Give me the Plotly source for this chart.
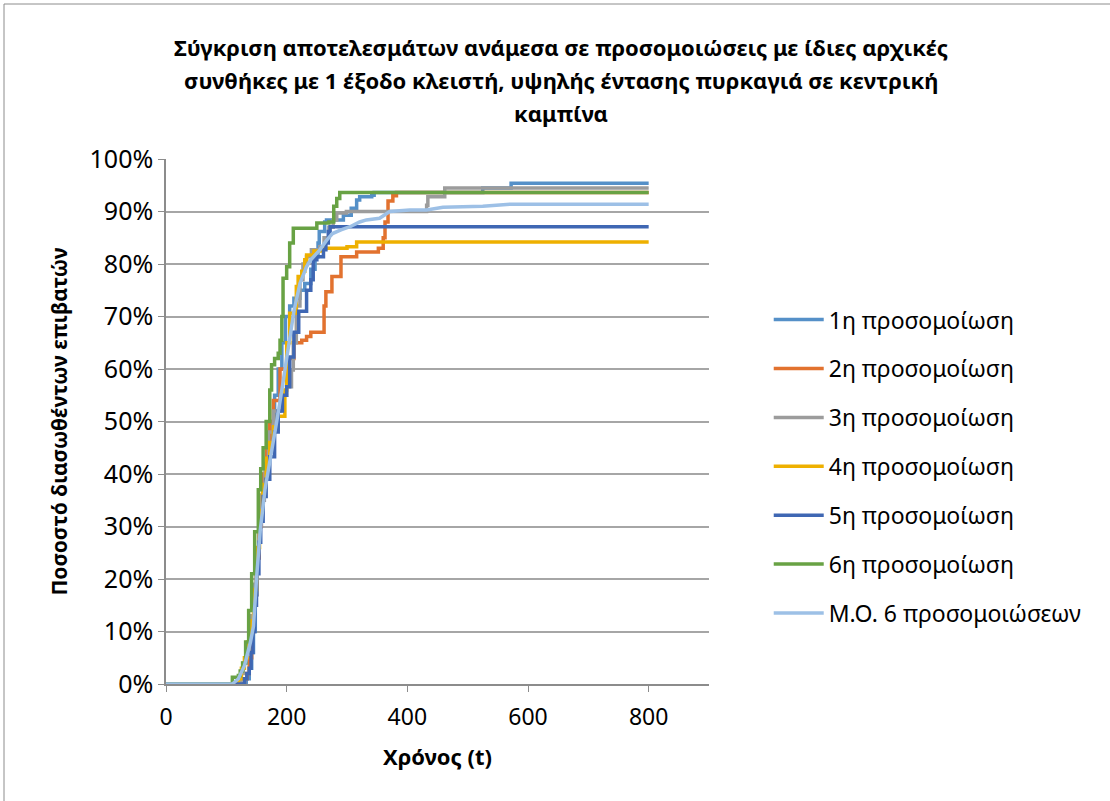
import plotly.graph_objects as go

# ---- Data (time t, percentage of evacuated passengers) ----
t1 = [0, 128, 133, 138, 142, 145, 148, 151, 154, 158, 163, 168, 173, 180, 186, 192, 198, 205, 212, 222, 230, 240, 247, 252, 254, 263, 266, 294, 307, 316, 321, 341, 345, 525, 572, 800]
v1 = [0, 0, 1, 3, 6, 10, 17, 24, 30, 35, 40, 45, 50, 55, 60, 65, 70, 72, 73.5, 75, 76.3, 79, 81.4, 84, 86.2, 88, 88.4, 89.3, 90.6, 92.2, 92.8, 93.1, 93.6, 94.5, 95.4, 95.4]

t2 = [0, 125, 130, 134, 138, 142, 146, 150, 154, 158, 162, 167, 172, 178, 189, 200, 212, 225, 233, 240, 260, 262, 265, 275, 290, 316, 352, 360, 363, 368, 376, 382, 800]
v2 = [0, 0, 1, 2, 5, 10, 17, 24, 30, 35, 40, 45, 50, 54, 60, 62, 65, 65.5, 66.2, 67, 67, 72, 74.7, 77.6, 81.4, 82.3, 83, 85, 88, 92, 93, 93.6, 93.6]

t3 = [0, 118, 124, 128, 133, 138, 142, 146, 150, 154, 158, 164, 170, 178, 190, 200, 208, 211, 216, 222, 227, 233, 241, 255, 262, 270, 277, 283, 299, 432, 434, 462, 800]
v3 = [0, 0, 2, 4, 6, 9, 13, 19, 25, 31, 36, 42, 48, 52, 55, 56.6, 59.8, 65, 72, 77, 80, 81.4, 82.7, 83.3, 85, 87, 88.4, 89.7, 90, 91.2, 92.8, 94.5, 94.5]

t4 = [0, 115, 120, 125, 130, 135, 140, 145, 150, 155, 160, 166, 172, 178, 185, 194, 197, 200, 205, 216, 219, 225, 230, 233, 245, 260, 300, 316, 800]
v4 = [0, 0, 1, 3, 5, 8, 12, 18, 26, 33, 38, 43, 46, 49, 51, 51, 56, 65, 70.6, 75.7, 77.6, 78.6, 80.8, 81.7, 82.5, 83, 83.3, 84.2, 84.2]

t5 = [0, 125, 130, 134, 138, 141, 144, 147, 150, 154, 157, 161, 166, 172, 180, 186, 193, 200, 205, 212, 220, 233, 240, 244, 250, 261, 265, 269, 272, 800]
v5 = [0, 0, 1, 2, 3, 6, 10, 15, 21, 27, 31, 35.7, 39, 43.3, 48, 52, 55, 56.6, 62.3, 67, 71, 75, 77, 80.8, 81.4, 82.7, 84, 86.2, 87.1, 87.1]

t6 = [0, 108, 110, 120, 123, 127, 132, 137, 142, 147, 153, 157, 161, 166, 172, 175, 180, 186, 189, 192, 194, 200, 205, 211, 250, 270, 278, 283, 288, 800]
v6 = [0, 0, 1.3, 1.6, 2.5, 4, 8, 14, 21, 29, 37, 41, 45, 50, 56, 60.8, 62, 63, 65.5, 70, 77.3, 79.5, 84, 86.8, 87.8, 88, 91, 92.5, 93.6, 93.6]

tm = [0, 110, 120, 130, 140, 145, 150, 156, 164, 172, 178, 185, 192, 200, 205, 212, 222, 233, 240, 255, 266, 276, 290, 305, 321, 332, 354, 371, 404, 432, 459, 525, 570, 800]
vm = [0, 0, 1, 3.5, 8, 11, 20, 29, 37, 42, 46.5, 51, 56, 62, 66, 71, 76.3, 79.5, 80.8, 82.7, 84.5, 85.8, 86.5, 87.1, 88, 88.4, 88.7, 90, 90.3, 90.3, 90.8, 91, 91.4, 91.4]

names = ["1η προσομοίωση", "2η προσομοίωση", "3η προσομοίωση", "4η προσομοίωση",
         "5η προσομοίωση", "6η προσομοίωση", "Μ.Ο. 6 προσομοιώσεων"]
colors = ["#5590C8", "#E2722F", "#9C9C9C", "#EEB000", "#3F67B3", "#68A244", "#9DC0E6"]
series_t = [t1, t2, t3, t4, t5, t6, tm]
series_v = [v1, v2, v3, v4, v5, v6, vm]
shapes_line = ["hv", "hv", "hv", "hv", "hv", "hv", "linear"]

x_ticks = [0, 200, 400, 600, 800]
y_ticks = [0, 10, 20, 30, 40, 50, 60, 70, 80, 90, 100]

FONT = "Noto Sans"

fig = go.Figure()
for i, (tt, vv) in enumerate(zip(series_t, series_v)):
    fig.add_trace(go.Scatter(
        x=tt, y=[v / 100 for v in vv], mode="lines", name=names[i],
        line=dict(color=colors[i], width=3.5, shape=shapes_line[i]),
        legendgroup=f"g{i}",
    ))

fig.update_layout(
    width=1110, height=801,
    paper_bgcolor="white", plot_bgcolor="white",
    margin=dict(l=166, r=401, t=159, b=117),
    font=dict(family=FONT, color="black"),
    showlegend=True,
    legend=dict(
        x=1.11, xanchor="left", y=0.735, yanchor="top",
        font=dict(size=23, family=FONT, color="black"),
        tracegroupgap=16, itemwidth=50,
        bgcolor="rgba(0,0,0,0)",
    ),
    xaxis=dict(
        range=[0, 900], tickvals=x_ticks, ticktext=[str(v) for v in x_ticks],
        showgrid=False, zeroline=False,
        showline=True, linecolor="#8C8C8C", linewidth=1.5,
        ticks="outside", ticklen=6, tickcolor="#8C8C8C",
        tickfont=dict(size=23, family=FONT), ticklabelstandoff=6,
        title=dict(text="<b>Χρόνος (t)</b>", font=dict(size=22, family=FONT), standoff=18),
    ),
    yaxis=dict(
        range=[0, 1], tickvals=[v / 100 for v in y_ticks],
        ticktext=[f"{v}%" for v in y_ticks],
        showgrid=True, gridcolor="#A6A6A6", gridwidth=1.5,
        zeroline=False,
        showline=True, linecolor="#8C8C8C", linewidth=1.5,
        ticks="outside", ticklen=6, tickcolor="#8C8C8C",
        tickfont=dict(size=25, family=FONT),
        title=dict(text="<b>Ποσοστό διασωθέντων επιβατών</b>", font=dict(size=21, family=FONT), standoff=16),
    ),
    shapes=[dict(type="rect", xref="paper", yref="paper",
                 x0=(4 - 166) / 543, x1=(1120 - 166) / 543,
                 y0=(684 - 815) / 525, y1=(684 - 4) / 525,
                 line=dict(color="#8C8C8C", width=1), fillcolor="rgba(0,0,0,0)", layer="below")],
)

title_lines = [
    "Σύγκριση αποτελεσμάτων ανάμεσα σε προσομοιώσεις με ίδιες αρχικές",
    "συνθήκες με 1 έξοδο κλειστή, υψηλής έντασης πυρκαγιά σε κεντρική",
    "καμπίνα",
]
title_y = [47, 80, 113]
for line, py in zip(title_lines, title_y):
    fig.add_annotation(
        text=f"<b>{line}</b>", xref="paper", yref="paper",
        x=(561 - 166) / 543, y=(684 - py) / 525, xanchor="center", yanchor="middle",
        showarrow=False, font=dict(size=22, family=FONT, color="black"),
    )

fig.write_html("out.html")
